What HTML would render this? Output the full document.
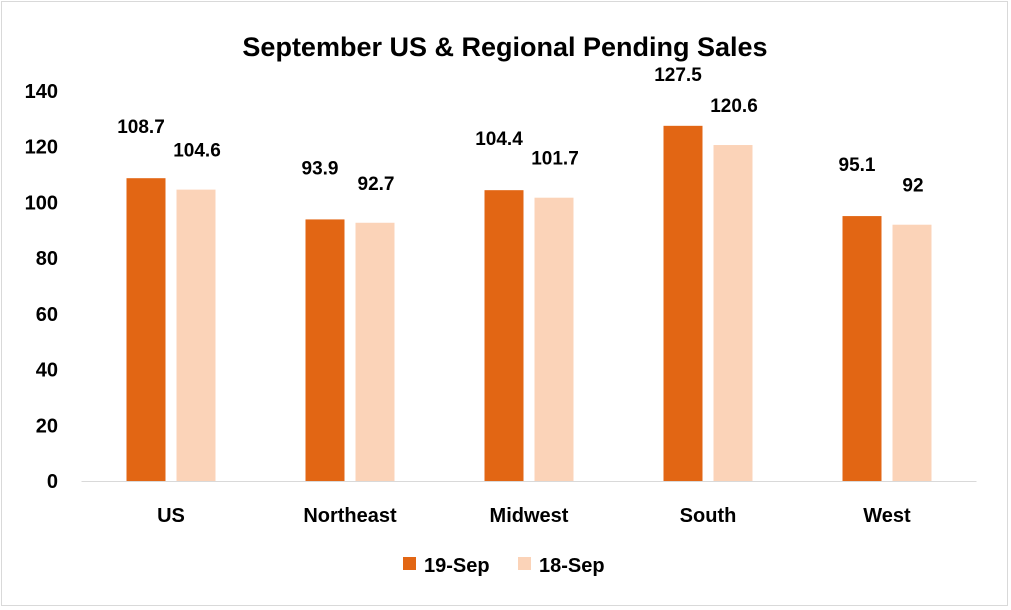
<!DOCTYPE html>
<html><head><meta charset="utf-8"><style>
body{margin:0;background:#fff;}
svg{display:block;font-family:"Liberation Sans",Arial,sans-serif;}
</style></head><body>
<svg id="chart" width="1011" height="610">
<rect x="1.5" y="1.5" width="1006" height="604" fill="#fff" stroke="#d9d9d9"/>
<text x="505" y="56" text-anchor="middle" font-size="27" font-weight="bold" fill="#000">September US &amp; Regional Pending Sales</text>
<g id="axis"></g><g id="bars"></g><g id="labels"></g>
<g>
<rect x="403" y="557" width="13" height="13" fill="#e26614"/>
<text x="424" y="572" font-size="20" font-weight="bold">19-Sep</text>
<rect x="518" y="557" width="13" height="13" fill="#fbd3b8"/>
<text x="539" y="572" font-size="20" font-weight="bold">18-Sep</text>
</g>
</svg>
<script>
const categories=["US","Northeast","Midwest","South","West"];
const sep19=[108.7,93.9,104.4,127.5,95.1];
const sep18=[104.6,92.7,101.7,120.6,92];
const ticks=[0,20,40,60,80,100,120,140];
const NS="http://www.w3.org/2000/svg";
const left=81.5,right=976.5,y0=481,yTop=91,maxV=140;
const y=v=>y0-(v/maxV)*(y0-yTop);
const bw=(right-left)/categories.length;
const cx=i=>left+bw*(i+0.5);
function mk(t,a,p){const e=document.createElementNS(NS,t);for(const k in a)e.setAttribute(k,a[k]);p.appendChild(e);return e;}
const ax=document.getElementById('axis'),bars=document.getElementById('bars'),lab=document.getElementById('labels');
ticks.forEach(t=>{const e=mk('text',{x:58,y:y(t)+7,'text-anchor':'end','font-size':20,'font-weight':'bold'},ax);e.textContent=t;

});
const base=mk('line',{x1:left,x2:right,y1:y0+0.5,y2:y0+0.5,stroke:'#d9d9d9','stroke-width':1},ax);


categories.forEach((c,i)=>{
const t=mk('text',{x:cx(i),y:522,'text-anchor':'middle','font-size':20,'font-weight':'bold'},ax);t.textContent=c;


[[sep19,'#e26614',-44.5,'19-sep',-5,-45],[sep18,'#fbd3b8',5.5,'18-sep',1,-33]].forEach(([arr,col,off,nm,lx,ly])=>{
const v=arr[i];
const r=mk('rect',{x:cx(i)+off,y:y(v),width:39,height:y0-y(v),fill:col},bars);


const l=mk('text',{x:cx(i)+off+19.5+lx,y:y(v)+ly,'text-anchor':'middle','font-size':19,'font-weight':'bold'},lab);l.textContent=v;


});});
</script>
</body></html>
